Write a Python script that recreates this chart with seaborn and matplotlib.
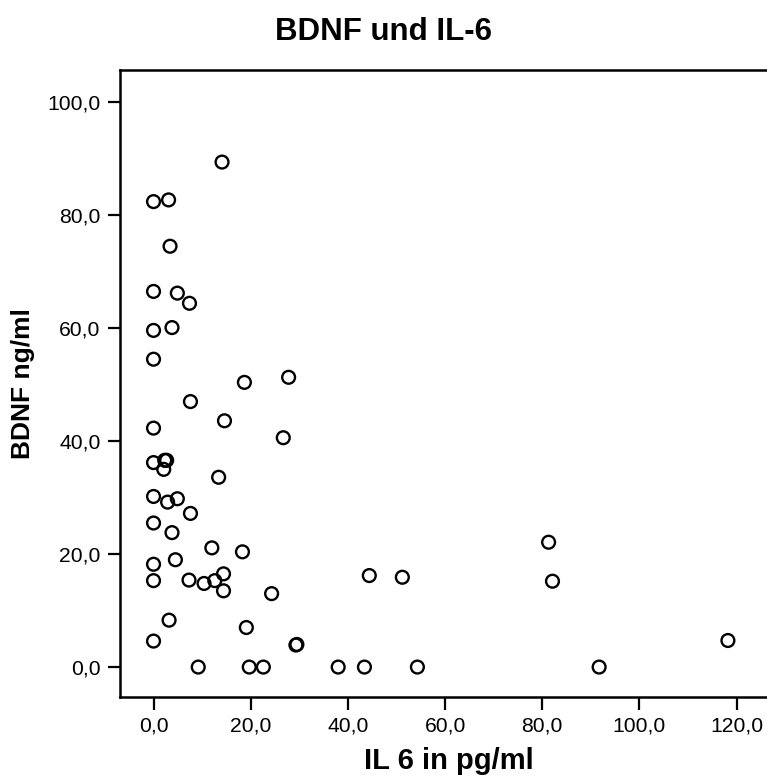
import matplotlib
matplotlib.use("Agg")
import matplotlib.pyplot as plt
import seaborn as sns
import pandas as pd
from matplotlib.ticker import FuncFormatter

# Werte
il6 = [14.1, 0.0, 3.1, 3.4, 0.0, 4.9, 7.4, 0.0, 3.8, 0.0,
       18.7, 27.8, 7.6, 14.6, 0.0, 26.7, 0.0, 2.3, 2.7, 2.1,
       13.4, 0.0, 2.9, 4.9, 7.6, 0.0, 3.8, 12.0, 18.3, 0.0,
       4.5, 0.0, 7.3, 10.4, 12.6, 14.4, 14.4, 24.3, 3.2, 19.1,
       0.0, 29.3, 29.5, 9.2, 19.7, 22.6, 81.3, 82.1, 44.4, 51.2,
       118.2, 38.0, 43.4, 54.3, 91.7]
bdnf = [89.4, 82.4, 82.7, 74.5, 66.5, 66.2, 64.4, 59.6, 60.1, 54.5,
        50.4, 51.3, 47.0, 43.6, 42.3, 40.6, 36.2, 36.6, 36.6, 35.0,
        33.6, 30.2, 29.2, 29.8, 27.2, 25.5, 23.8, 21.1, 20.4, 18.2,
        19.0, 15.3, 15.4, 14.8, 15.3, 16.5, 13.5, 13.0, 8.3, 7.0,
        4.6, 3.9, 4.0, 0.0, 0.0, 0.0, 22.1, 15.2, 16.2, 15.9,
        4.7, 0.0, 0.0, 0.0, 0.0]
xticks = [0, 20, 40, 60, 80, 100, 120]
yticks = [0, 20, 40, 60, 80, 100]

df = pd.DataFrame({"il6": il6, "bdnf": bdnf})

sns.set_style("ticks")
plt.rcParams["font.family"] = ["Liberation Sans", "DejaVu Sans"]
plt.rcParams["text.color"] = "black"
plt.rcParams["axes.labelcolor"] = "black"
plt.rcParams["xtick.color"] = "black"
plt.rcParams["ytick.color"] = "black"

fig = plt.figure(figsize=(7.67, 7.78), dpi=100)
# Diagrammrahmen geht rechts etwas ueber den Bildrand hinaus
ax = fig.add_axes([120 / 767, 81 / 778, 657 / 767, 627 / 778])

sns.scatterplot(data=df, x="il6", y="bdnf", ax=ax, marker="o", s=85, linewidth=1.6)
pts = ax.collections[0]
pts.set_facecolor("none")
pts.set_edgecolor("black")
pts.set_linewidth(1.7)

ax.set_xlim(-6.9, 128.3)
ax.set_ylim(-5.3, 105.7)
ax.set_xticks(xticks)
ax.set_yticks(yticks)
fmt = FuncFormatter(lambda v, p: f"{v:.1f}".replace(".", ","))
ax.xaxis.set_major_formatter(fmt)
ax.yaxis.set_major_formatter(fmt)

for s in ax.spines.values():
    s.set_linewidth(1.8)
    s.set_color("black")
ax.tick_params(axis="both", length=9, width=1.6, color="black", labelcolor="black",
               labelsize=15.2, pad=5)

ax.set_xlabel("IL 6 in pg/ml", fontsize=21, fontweight="bold", labelpad=8)
ax.set_ylabel("BDNF ng/ml", fontsize=19, fontweight="bold", labelpad=9)
fig.suptitle("BDNF und IL-6", fontsize=22.5, fontweight="bold", x=0.5, y=0.978)

fig.savefig("out.png", dpi=100)
